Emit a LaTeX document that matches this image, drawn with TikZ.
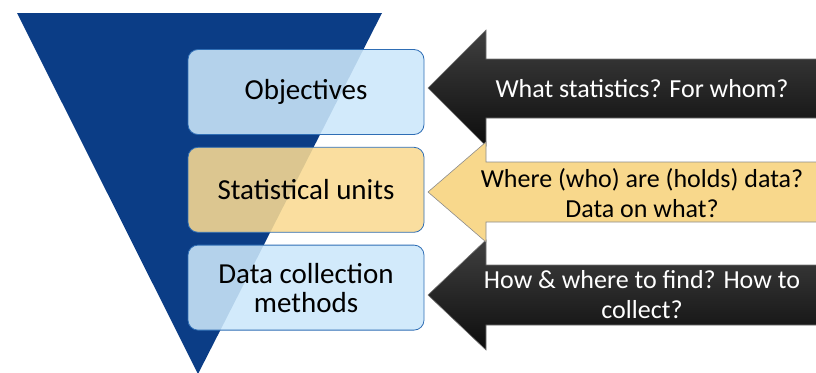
\documentclass[tikz,border=0pt]{standalone}
\usepackage{fontspec}
\setmainfont{Carlito}
\usetikzlibrary{positioning}

\definecolor{funnelblue}{HTML}{0B3D86}
\definecolor{boxblue}{HTML}{CCE7FA}
\definecolor{boxedge}{HTML}{2F6EB5}
\definecolor{boxyellow}{HTML}{F9DA92}
\definecolor{askyellow}{HTML}{F8D88C}

\tikzset{
  stagebox/.style={draw=boxedge, line width=0.8pt, rounded corners=10pt,
    minimum width=236pt, minimum height=85pt, align=center,
    fill opacity=0.88, text opacity=1, font=\fontsize{29}{29}\selectfont},
  darkarrow/.style={top color=black!75, bottom color=black!95, draw=black!55, line width=0.6pt},
  lightarrow/.style={fill=askyellow, draw=black!45, line width=0.6pt},
  asktext/.style={align=center, font=\fontsize{26}{30}\selectfont}
}

\begin{document}
\begin{tikzpicture}[x=1pt,y=-1pt]
    \useasboundingbox (0,0) rectangle (816,372);
    % funnel
    \fill[funnelblue] (17,13) -- (382,13) -- (198,374) -- cycle;
    % stages
    \node[stagebox, fill=boxblue] (objectives) at (306,92) {Objectives};
    \node[stagebox, fill=boxyellow, below=12pt of objectives] (units) {Statistical units};
    \node[stagebox, fill=boxblue, below=12pt of units] (methods) {Data collection\\methods};
    % questions
    \draw[darkarrow] (822,59) -- (486,59) -- (486,30) -- (428,88) -- (486,146) -- (486,118) -- (822,118);
    \draw[darkarrow] (822,265) -- (486,265) -- (486,240) -- (428,295) -- (486,350) -- (486,325) -- (822,325);
    \draw[lightarrow] (822,162) -- (486,162) -- (486,142) -- (428,192) -- (486,242) -- (486,222) -- (822,222);
    \node[asktext, text=white] (forwhom) at (642,89) {What statistics? For whom?};
    \node[asktext] (where) at (642,193) {Where (who) are (holds) data?\\Data on what?};
    \node[asktext, text=white] (howto) at (642,295) {How \& where to find? How to\\collect?};
\end{tikzpicture}
\end{document}
